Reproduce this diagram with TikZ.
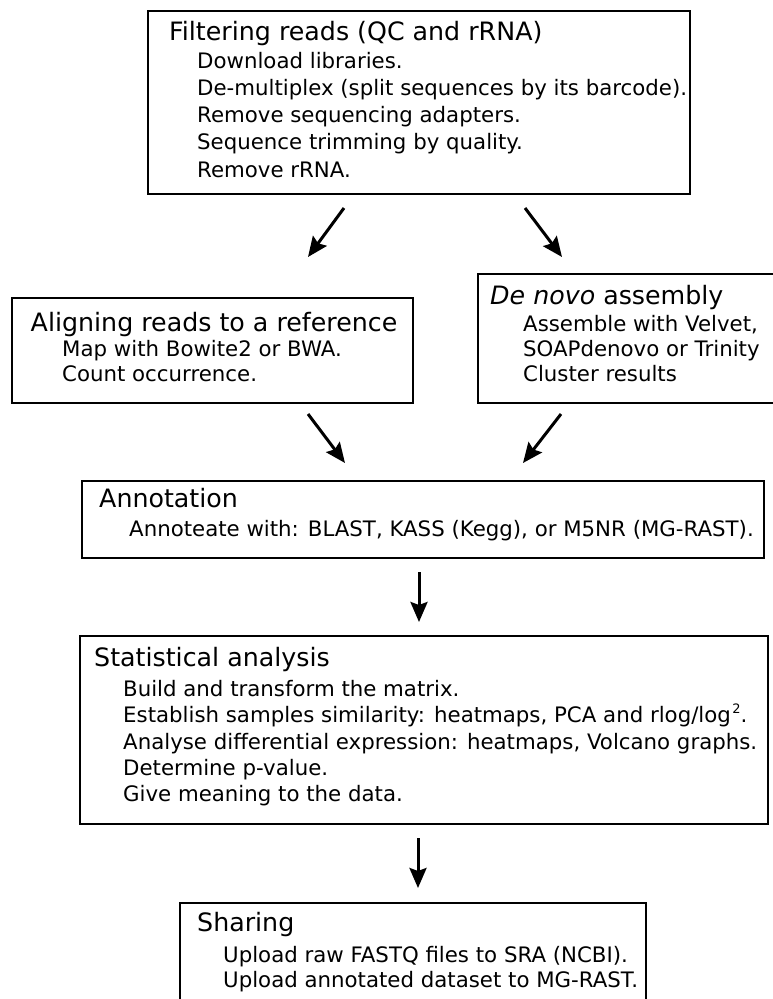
\documentclass[tikz,border=0pt]{standalone}
\usepackage{fontspec}
\setmainfont{DejaVu Sans}
\usetikzlibrary{arrows.meta}

\tikzset{
  box/.style={draw, line width=2.3pt, inner sep=0pt, anchor=north west},
  ttl/.style={anchor=base west, inner sep=0pt, font=\fontsize{25.3}{30}\selectfont},
  itm/.style={anchor=base west, inner sep=0pt, font=\fontsize{21.3}{26}\selectfont},
  arr/.style={line width=3pt, -{Stealth[length=20pt,width=17pt,inset=3pt]}},
}

\begin{document}
\begin{tikzpicture}[x=1pt,y=-1pt]
\useasboundingbox (0,0) rectangle (773,999);

% ---- stage boxes
\node[box, minimum width=542pt, minimum height=183pt] (filt) at (147,10) {};
\node[box, minimum width=401pt, minimum height=105pt] (align) at (11,297) {};
\node[box, minimum width=299pt, minimum height=129pt] (denovo) at (477,273) {};
\node[box, minimum width=682pt, minimum height=77pt] (annot) at (81,480) {};
\node[box, minimum width=688pt, minimum height=188pt] (stats) at (79,635) {};
\node[box, minimum width=466pt, minimum height=115pt] (share) at (179,902) {};

% ---- filtering reads
\node[ttl] (filt-t) at (169,40) {Filtering reads (QC and rRNA)};
\node[itm] (filt-1) at (197,68) {Download libraries.};
\node[itm] (filt-2) at (197,95) {De-multiplex (split sequences by its barcode).};
\node[itm] (filt-3) at (197,122) {Remove sequencing adapters.};
\node[itm] (filt-4) at (197,149) {Sequence trimming by quality.};
\node[itm] (filt-5) at (197,177) {Remove rRNA.};

% ---- aligning reads
\node[ttl] (align-t) at (30.5,331) {Aligning reads to a reference};
\node[itm] (align-1) at (62,356) {Map with Bowite2 or BWA.};
\node[itm] (align-2) at (62,381) {Count occurrence.};

% ---- de novo assembly
\node[ttl] (denovo-t) at (490,304) {\itshape De novo\upshape{} assembly};
\node[itm] (denovo-1) at (523,331) {Assemble with Velvet,};
\node[itm] (denovo-2) at (523,356) {SOAPdenovo or Trinity};
\node[itm] (denovo-3) at (523,381) {Cluster results};

% ---- annotation
\node[ttl] (annot-t) at (99,507) {Annotation};
\node[itm] (annot-1) at (129,536) {Annoteate with: BLAST, KASS (Kegg), or M5NR (MG-RAST).};

% ---- statistical analysis
\node[ttl] (stats-t) at (94,666) {Statistical analysis};
\node[itm] (stats-1) at (123,696) {Build and transform the matrix.};
\node[itm] (stats-2) at (123,722) {Establish samples similarity: heatmaps, PCA and rlog/log\kern1.5pt\raisebox{9pt}{\fontsize{13}{13}\selectfont 2}.};
\node[itm] (stats-3) at (123,749) {Analyse differential expression: heatmaps, Volcano graphs.};
\node[itm] (stats-4) at (123,775) {Determine p-value.};
\node[itm] (stats-5) at (123,801) {Give meaning to the data.};

% ---- sharing
\node[ttl] (share-t) at (197,931) {Sharing};
\node[itm] (share-1) at (223,962) {Upload raw FASTQ files to SRA (NCBI).};
\node[itm] (share-2) at (223,987) {Upload annotated dataset to MG-RAST.};

% ---- free-standing flow arrows
\coordinate (a1s) at (344,208); \coordinate (a1e) at (308,257);
\coordinate (a2s) at (525,208); \coordinate (a2e) at (562,257);
\coordinate (a3s) at (308,414); \coordinate (a3e) at (345,463);
\coordinate (a4s) at (561,414); \coordinate (a4e) at (523,463);
\coordinate (a5s) at (419,572); \coordinate (a5e) at (419,622);
\coordinate (a6s) at (418,838); \coordinate (a6e) at (418,888);

\draw[arr] (a1s) -- (a1e);
\draw[arr] (a2s) -- (a2e);
\draw[arr] (a3s) -- (a3e);
\draw[arr] (a4s) -- (a4e);
\draw[arr] (a5s) -- (a5e);
\draw[arr] (a6s) -- (a6e);
\end{tikzpicture}
\end{document}
